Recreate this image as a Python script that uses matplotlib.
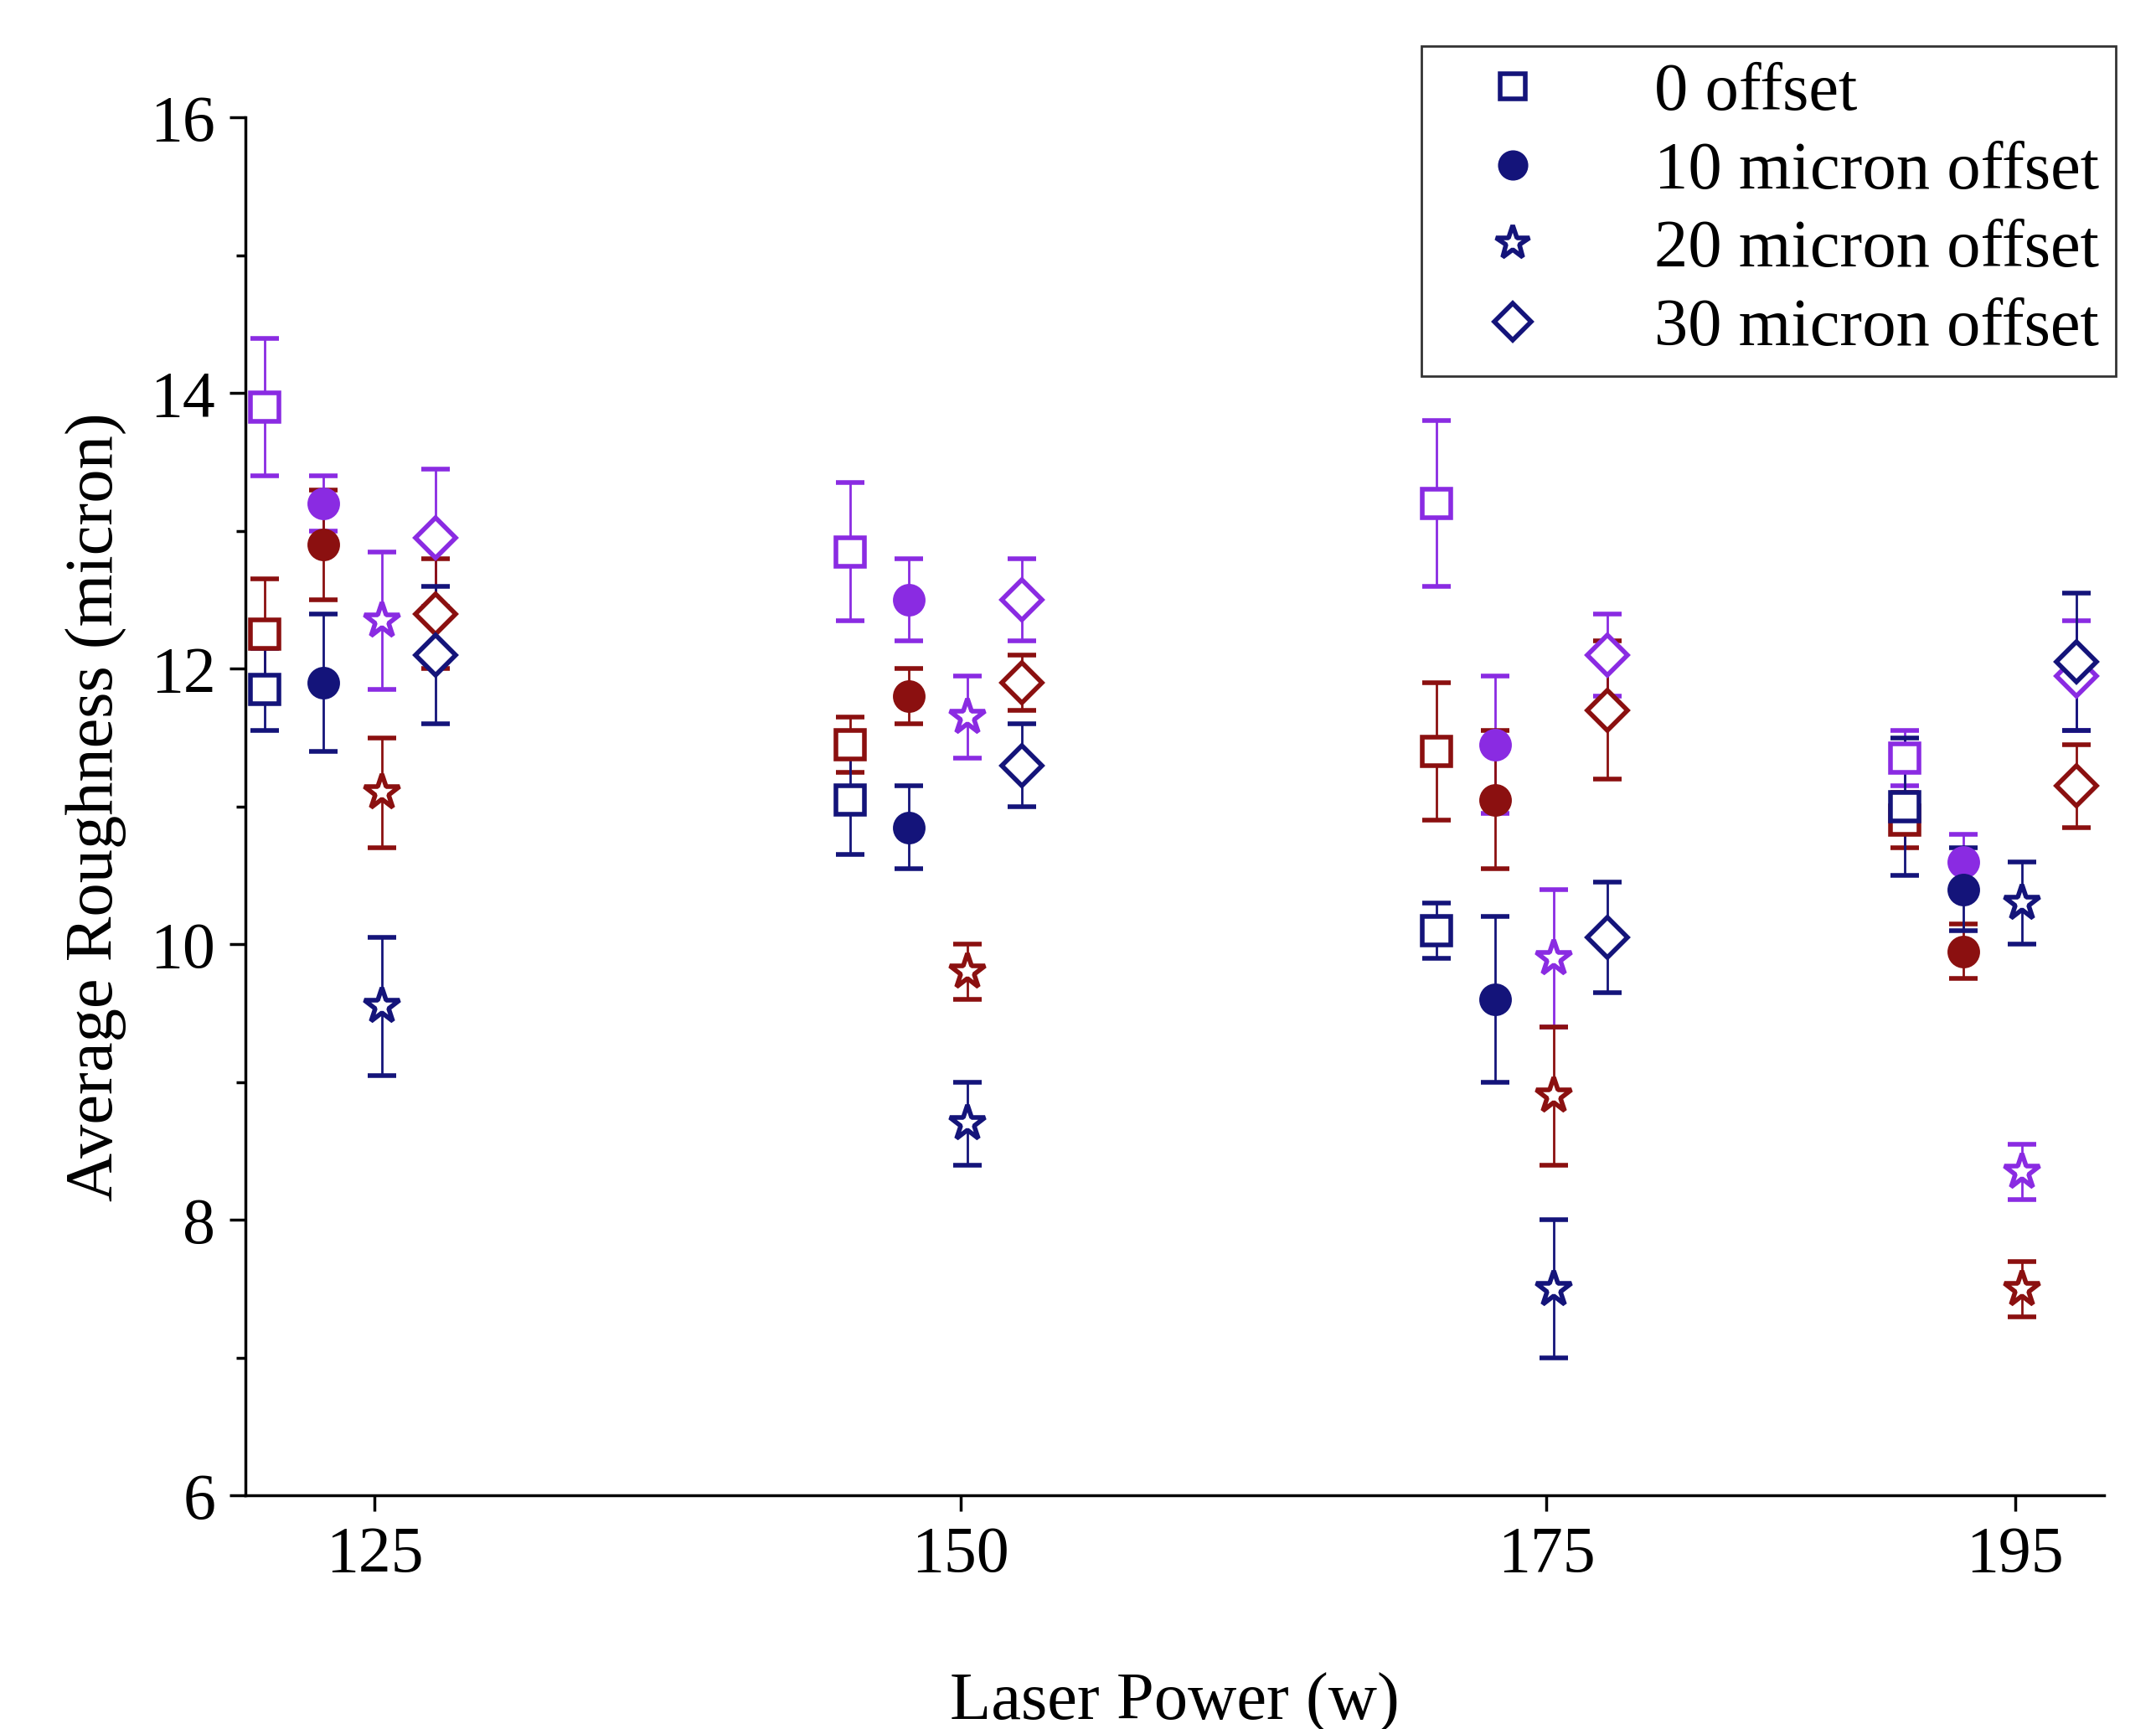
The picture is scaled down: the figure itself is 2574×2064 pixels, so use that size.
import matplotlib
matplotlib.use("Agg")
import matplotlib.pyplot as plt
from matplotlib.lines import Line2D
import numpy as np

powers = [125, 150, 175, 195]
offset_labels = ["0 offset", "10 micron offset", "20 micron offset", "30 micron offset"]
markers = ["s", "o", "*", "D"]
filled = [False, True, False, False]
colors = {"purple": "#8A2BE2", "red": "#8B1010", "navy": "#14147A"}

vals = {
    "0 offset": {"purple": [13.9, 12.85, 13.2, 11.35], "red": [12.25, 11.45, 11.4, 10.9], "navy": [11.85, 11.05, 10.1, 11.0]},
    "10 micron offset": {"purple": [13.2, 12.5, 11.45, 10.6], "red": [12.9, 11.8, 11.05, 9.95], "navy": [11.9, 10.85, 9.6, 10.4]},
    "20 micron offset": {"purple": [12.35, 11.65, 9.9, 8.35], "red": [11.1, 9.8, 8.9, 7.5], "navy": [9.55, 8.7, 7.5, 10.3]},
    "30 micron offset": {"purple": [12.95, 12.5, 12.1, 11.95], "red": [12.4, 11.9, 11.7, 11.15], "navy": [12.1, 11.3, 10.05, 12.05]},
}
errs = {
    "0 offset": {"purple": [0.5, 0.5, 0.6, 0.2], "red": [0.4, 0.2, 0.5, 0.2], "navy": [0.3, 0.4, 0.2, 0.5]},
    "10 micron offset": {"purple": [0.2, 0.3, 0.5, 0.2], "red": [0.4, 0.2, 0.5, 0.2], "navy": [0.5, 0.3, 0.6, 0.3]},
    "20 micron offset": {"purple": [0.5, 0.3, 0.5, 0.2], "red": [0.4, 0.2, 0.5, 0.2], "navy": [0.5, 0.3, 0.5, 0.3]},
    "30 micron offset": {"purple": [0.5, 0.3, 0.3, 0.4], "red": [0.4, 0.2, 0.5, 0.3], "navy": [0.5, 0.3, 0.4, 0.5]},
}
x_shift = [-4.7, -2.2, 0.3, 2.6]

plt.rcParams["font.family"] = "Liberation Serif"
fig = plt.figure(figsize=(25.74, 20.64), dpi=100)
ax = fig.add_axes([0.114, 0.135, 0.862, 0.797])

handles = []
for i, lab in enumerate(offset_labels):
    xs = np.array(powers) + x_shift[i]
    for cname in ["purple", "red", "navy"]:
        c = colors[cname]
        ms = 32 if markers[i] == "*" else 24
        ax.errorbar(xs, vals[lab][cname], yerr=errs[lab][cname], fmt=markers[i], color=c,
                    mfc=c if filled[i] else "white", mec=c, mew=4, ms=ms,
                    elinewidth=2, capsize=12, capthick=2)
    c = colors["navy"]
    handles.append(Line2D([], [], ls="none", marker=markers[i], color=c,
                          mfc=c if filled[i] else "white", mec=c, mew=4,
                          ms=30 if markers[i] == "*" else 22))

ax.set_xlim(119.5, 198.8)
ax.set_ylim(6, 16)
ax.set_xticks(powers)
ax.set_yticks(np.arange(6, 17, 2))
ax.set_yticks(np.arange(7, 16, 2), minor=True)
ax.tick_params(axis="both", which="major", labelsize=56, length=14, width=2.5, direction="out", pad=12)
ax.tick_params(axis="y", which="minor", length=8, width=2.5, direction="out")
for s in ["top", "right"]:
    ax.spines[s].set_visible(False)
for s in ["left", "bottom"]:
    ax.spines[s].set_linewidth(2.5)
ax.set_xlabel("Laser Power (w)", fontsize=58, labelpad=75)
ax.set_ylabel("Average Roughness (micron)", fontsize=58, labelpad=20)

leg = fig.legend(handles=handles, labels=offset_labels, loc="upper right",
                 bbox_to_anchor=(0.997, 0.993), fontsize=58, frameon=True, fancybox=False,
                 edgecolor="black", handletextpad=1.0, borderpad=0.25, labelspacing=0.25,
                 handlelength=2.2)
leg.get_frame().set_linewidth(2)
fig.savefig("out.png", dpi=100)
